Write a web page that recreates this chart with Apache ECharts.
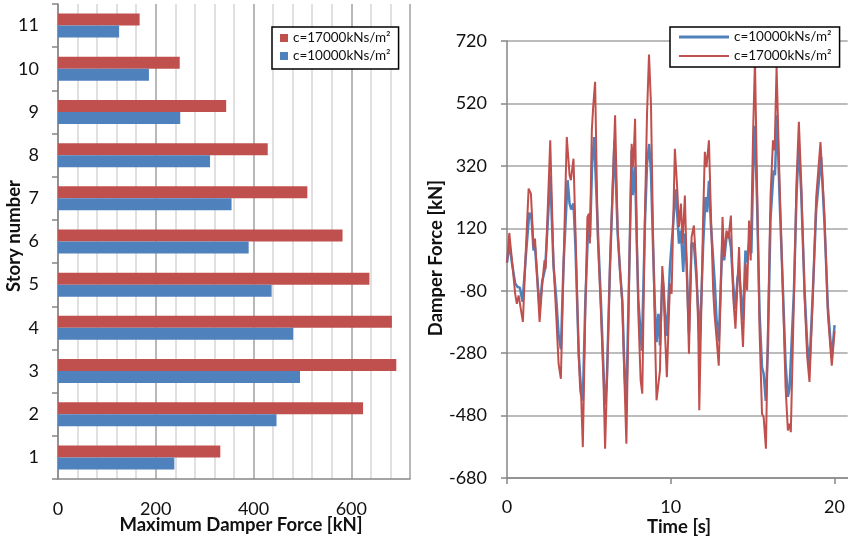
<!DOCTYPE html>
<html>
<head>
<meta charset="utf-8">
<script src="https://cdn.jsdelivr.net/npm/echarts@6.0.0/dist/echarts.min.js"></script>
<style>
  html, body { margin: 0; padding: 0; background: #fff; }
  #chart { width: 848px; height: 543px; }
</style>
</head>
<body>
<div id="chart"></div>
<script>
// left panel: max damper force per story
const stories = ['1', '2', '3', '4', '5', '6', '7', '8', '9', '10', '11']
const maxForce17000 = [332, 624, 692, 683, 637, 582, 510, 429, 344, 249, 167]
const maxForce10000 = [238, 447, 495, 481, 437, 390, 355, 311, 250, 186, 125]

// right panel: damper force time history [t (s), force (kN)]
const force10000 = [
  [0, 10], [0.14, 70], [0.3, 10], [0.5, -57], [0.65, -68], [0.78, -70], [0.95, -115], [1.15, 30],
  [1.36, 170], [1.5, 150], [1.62, 49], [1.71, 60], [1.99, -138], [2.15, -50], [2.33, -9], [2.5, 150],
  [2.64, 290], [2.84, 0], [3.0, -100], [3.15, -220], [3.29, -268], [3.45, 0], [3.7, 274], [3.82, 200],
  [3.92, 180], [4.06, 200], [4.18, 60], [4.38, -282], [4.51, -389], [4.63, -432], [4.78, -120],
  [4.97, 145], [5.07, 92], [5.2, 330], [5.32, 412], [5.58, 71], [5.74, -120], [5.89, -330],
  [5.97, -445], [6.09, -378], [6.29, 0], [6.56, 400], [6.76, 100], [6.9, -15], [7.04, -111],
  [7.17, -330], [7.28, -450], [7.47, 0], [7.61, 370], [7.68, 226], [7.82, 316], [7.92, 80],
  [8.02, -111], [8.23, -273], [8.42, 130], [8.55, 327], [8.68, 390], [8.79, 300], [8.93, 40],
  [9.03, -130], [9.13, -245], [9.24, -154], [9.34, -255], [9.48, -45], [9.56, -70], [9.64, -150],
  [9.76, -225], [9.95, -2], [10.05, -5], [10.3, 245], [10.5, 71], [10.62, 113], [10.76, -20],
  [10.86, 103], [10.97, 0], [11.11, -215], [11.27, 71], [11.41, 71], [11.57, -40], [11.68, -150],
  [11.75, -261], [11.88, -80], [11.98, 71], [12.12, 220], [12.22, 172], [12.33, 272], [12.45, 130],
  [12.69, -57], [12.79, -170], [12.93, -242], [13.04, -80], [13.16, 92], [13.26, 17], [13.4, 90],
  [13.52, 108], [13.67, 60], [13.81, -60], [13.95, -138], [14.07, -40], [14.17, -15], [14.28, -90],
  [14.41, -175], [14.56, 49], [14.66, 10], [14.82, 92], [14.92, 40], [15.03, 306], [15.13, 448],
  [15.27, 200], [15.42, -150], [15.57, -325], [15.67, -346], [15.8, -433], [15.93, -260],
  [16.09, 150], [16.28, 306], [16.36, 290], [16.49, 482], [16.64, 220], [16.85, -80], [17.01, -314],
  [17.15, -420], [17.25, -394], [17.33, -394], [17.52, -80], [17.68, 230], [17.82, 388],
  [17.96, 240], [18.17, -80], [18.33, -250], [18.47, -320], [18.67, -90], [18.88, 180],
  [19.18, 348], [19.38, 140], [19.59, -130], [19.83, -295], [20, -190]
]
const force17000 = [
  [0, 10], [0.14, 105], [0.3, 20], [0.5, -90], [0.6, -122], [0.71, -95], [0.97, -180], [1.15, 50],
  [1.32, 247], [1.46, 231], [1.62, 60], [1.71, 87], [1.99, -180], [2.15, -60], [2.29, 17], [2.36, -9],
  [2.5, 200], [2.64, 402], [2.84, 7], [3.0, -154], [3.15, -314], [3.29, -362], [3.45, 0], [3.65, 412],
  [3.82, 290], [3.9, 274], [4.06, 343], [4.18, 113], [4.38, -292], [4.47, -399], [4.53, -420],
  [4.63, -581], [4.78, -150], [4.91, 156], [5.0, 167], [5.06, 71], [5.18, 434], [5.26, 508],
  [5.38, 589], [5.54, 92], [5.74, -154], [5.89, -367], [5.99, -586], [6.09, -399], [6.29, 7],
  [6.5, 327], [6.6, 482], [6.76, 113], [6.9, -15], [7.04, -122], [7.17, -367], [7.29, -570],
  [7.47, 7], [7.61, 391], [7.71, 316], [7.82, 471], [7.92, 113], [8.02, -154], [8.16, -367],
  [8.26, -410], [8.42, 156], [8.55, 487], [8.67, 677], [8.79, 519], [8.93, 60], [9.03, -207],
  [9.13, -431], [9.34, -335], [9.48, -1], [9.56, -57], [9.64, -207], [9.76, -357], [9.95, -57],
  [10.05, -90], [10.25, 375], [10.4, 241], [10.5, 124], [10.62, 199], [10.72, 71], [10.86, 225],
  [10.97, 7], [11.11, -282], [11.27, 92], [11.41, 129], [11.57, -15], [11.68, -207], [11.74, -463],
  [11.88, -100], [11.98, 167], [12.08, 365], [12.18, 316], [12.33, 402], [12.45, 167], [12.59, -79],
  [12.67, -154], [12.79, -229], [12.93, -320], [13.04, -100], [13.16, 156], [13.26, 28], [13.4, 113],
  [13.52, 87], [13.67, 161], [13.81, -100], [13.95, -202], [14.07, -57], [14.17, 60], [14.28, -132],
  [14.41, -260], [14.56, 7], [14.66, -79], [14.78, 145], [14.88, 17], [15.03, 434], [15.14, 658],
  [15.27, 250], [15.42, -207], [15.57, -474], [15.67, -485], [15.81, -586], [15.93, -207],
  [16.09, 220], [16.24, 402], [16.34, 370], [16.46, 637], [16.64, 274], [16.85, -100], [17.01, -389],
  [17.15, -528], [17.25, -506], [17.33, -533], [17.52, -100], [17.68, 274], [17.82, 461],
  [17.96, 274], [18.17, -100], [18.33, -292], [18.47, -372], [18.67, -100], [18.88, 220],
  [19.14, 396], [19.38, 167], [19.59, -154], [19.83, -320], [20, -210]
]

const legendText = {
  bar17: 'c=17000kNs/m²',
  bar10: 'c=10000kNs/m²',
  line10: 'c=10000kNs/m²',
  line17: 'c=17000kNs/m²'
}

const RED = '#c0504d'
const BLUE = '#4f81bd'
const FONT = 'Lato'
const TICK_SIZE = 18
const TITLE_FONT = 'bold 18.5px Lato'

// gridlines every 40 kN, darker at every 200 and at the right edge
const vLineColors = []
for (let i = 0; i <= 18; i++) {
  vLineColors.push(i % 5 === 0 || i === 18 ? '#a0a0a0' : '#d6d6d6')
}

const chart = echarts.init(document.getElementById('chart'))

const option = {
  backgroundColor: '#fff',
  animation: false,
  textStyle: { fontFamily: FONT },
  grid: [
    { left: 58, right: 438, top: 4, bottom: 64 },
    { left: 507, right: 0, top: 41, bottom: 65 }
  ],
  legend: [
    {
      data: ['bar17', 'bar10'],
      formatter: n => legendText[n],
      orient: 'vertical',
      left: 272,
      top: 27,
      icon: 'rect',
      itemWidth: 8,
      itemHeight: 8,
      itemGap: 4,
      padding: [4, 8, 6, 8],
      borderColor: '#000',
      borderWidth: 1.5,
      backgroundColor: '#fff',
      textStyle: { fontSize: 13.5, color: '#111', fontFamily: FONT }
    },
    {
      data: [
        { name: 'line10', icon: 'path://M0,0L50,0L50,3L0,3Z' },
        { name: 'line17', icon: 'path://M0,0L50,0L50,2L0,2Z' }
      ],
      formatter: n => legendText[n],
      orient: 'vertical',
      left: 670,
      top: 27,
      itemWidth: 50,
      itemHeight: 14,
      itemGap: 5,
      padding: [3, 8, 4, 9],
      borderColor: '#000',
      borderWidth: 1.5,
      backgroundColor: '#fff',
      z: 10,
      textStyle: { fontSize: 13.5, color: '#111', fontFamily: FONT }
    }
  ],
  xAxis: [
    {
      type: 'value',
      gridIndex: 0,
      min: 0,
      max: 720,
      interval: 40,
      axisLine: { show: true, lineStyle: { color: '#868686', width: 1.5 } },
      axisTick: { show: false },
      axisLabel: {
        margin: 21,
        fontSize: TICK_SIZE,
        color: '#111',
        formatter: v => (v % 200 === 0 ? v : '')
      },
      splitLine: { show: true, lineStyle: { color: vLineColors, width: 1.5 } }
    },
    {
      type: 'value',
      gridIndex: 1,
      min: 0,
      max: 20.8,
      interval: 10,
      axisLine: { show: true, onZero: false, lineStyle: { color: '#868686', width: 1.5 } },
      axisTick: { show: true, length: 6, lineStyle: { color: '#868686', width: 1.5 } },
      axisLabel: { margin: 20, fontSize: TICK_SIZE, color: '#111', showMaxLabel: false },
      splitLine: { show: false }
    }
  ],
  yAxis: [
    {
      type: 'category',
      gridIndex: 0,
      data: stories,
      axisLine: { show: true, lineStyle: { color: '#868686', width: 1.5 } },
      axisTick: { show: true, length: 6, lineStyle: { color: '#868686', width: 1.5 } },
      axisLabel: { margin: 19, fontSize: TICK_SIZE, color: '#111' },
      splitLine: { show: false }
    },
    {
      type: 'value',
      gridIndex: 1,
      min: -680,
      max: 720,
      interval: 200,
      axisLine: { show: true, onZero: false, lineStyle: { color: '#868686', width: 1.5 } },
      axisTick: { show: true, length: 6, lineStyle: { color: '#868686', width: 1.5 } },
      axisLabel: { margin: 20, fontSize: TICK_SIZE, color: '#111' },
      splitLine: { show: true, lineStyle: { color: '#a6a6a6', width: 1.5 } }
    }
  ],
  series: [
    {
      name: 'bar17',
      type: 'bar',
      xAxisIndex: 0,
      yAxisIndex: 0,
      data: maxForce17000,
      barWidth: 12,
      barGap: '0%',
      itemStyle: { color: RED }
    },
    {
      name: 'bar10',
      type: 'bar',
      xAxisIndex: 0,
      yAxisIndex: 0,
      data: maxForce10000,
      barWidth: 12,
      barGap: '0%',
      itemStyle: { color: BLUE }
    },
    {
      name: 'line10',
      type: 'line',
      xAxisIndex: 1,
      yAxisIndex: 1,
      data: force10000,
      symbol: 'none',
      showSymbol: false,
      lineStyle: { color: BLUE, width: 2.5 },
      itemStyle: { color: BLUE }
    },
    {
      name: 'line17',
      type: 'line',
      xAxisIndex: 1,
      yAxisIndex: 1,
      data: force17000,
      symbol: 'none',
      showSymbol: false,
      lineStyle: { color: RED, width: 2 },
      itemStyle: { color: RED }
    }
  ],
  graphic: [
    {
      type: 'text',
      x: 14,
      y: 236,
      rotation: Math.PI / 2,
      style: { text: 'Story number', font: TITLE_FONT, fill: '#111', align: 'center', verticalAlign: 'middle' }
    },
    {
      type: 'text',
      x: 241,
      y: 525,
      style: { text: 'Maximum Damper Force [kN]', font: TITLE_FONT, fill: '#111', align: 'center', verticalAlign: 'middle' }
    },
    {
      type: 'text',
      x: 436,
      y: 258,
      rotation: Math.PI / 2,
      style: { text: 'Damper Force [kN]', font: TITLE_FONT, fill: '#111', align: 'center', verticalAlign: 'middle' }
    },
    {
      type: 'text',
      x: 679,
      y: 527,
      style: { text: 'Time [s]', font: TITLE_FONT, fill: '#111', align: 'center', verticalAlign: 'middle' }
    }
  ]
}

chart.setOption(option)
</script>
</body>
</html>
